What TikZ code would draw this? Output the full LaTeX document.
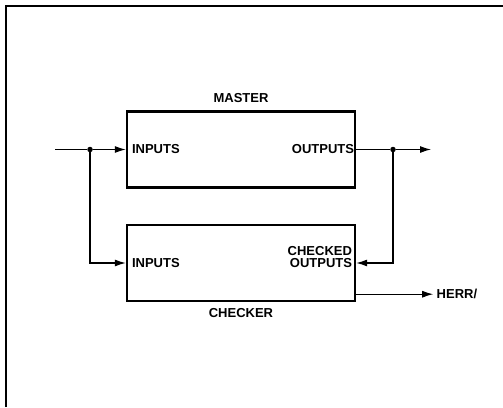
\documentclass[tikz,border=0pt]{standalone}
\usepackage{fontspec}
\setmainfont{Liberation Sans}
\usetikzlibrary{positioning, arrows.meta}

\begin{document}
\begin{tikzpicture}[
    x=1pt, y=-1pt,
    font=\fontsize{13}{13.5}\selectfont\bfseries,
    % Styles
    unitbox/.style={rectangle, draw=black, line width=2.4pt, minimum width=228pt, minimum height=76pt, inner sep=0pt},
    portlabel/.style={inner sep=0pt, align=right},
    junction/.style={circle, fill=black, inner sep=0pt, minimum size=5.5pt},
    wire/.style={line width=1.1pt},
    arrow/.style={wire, -{Latex[length=11pt, width=7pt]}},
    frameline/.style={line width=1.5pt}
]
\useasboundingbox (0,0) rectangle (503,407);

% ==================== FRAME ====================
\draw[frameline] (6,407) -- (6,6) -- (503,6);

% ==================== UNITS ====================
\node[unitbox] (master) at (241,149.5) {};
\node[unitbox] (checker) at (241,263) {};

\node[above=4pt of master] (mastername) {MASTER};
\node[below=3pt of checker] (checkername) {CHECKER};

\node[portlabel, anchor=west] (min) at ([xshift=6pt]master.west) {INPUTS};
\node[portlabel, anchor=east] (mout) at ([xshift=-2pt]master.east) {OUTPUTS};
\node[portlabel, anchor=west] (cin) at ([xshift=6pt]checker.west) {INPUTS};
\node[portlabel, anchor=east] (cout) at ([xshift=-4pt, yshift=6pt]checker.east) {CHECKED\\[-2pt]OUTPUTS};

% ==================== INPUT SIDE ====================
\coordinate (insrc) at (55,149.5);
\node[junction] (dotin) at (90,149.5) {};
\draw[wire] (insrc) -- (dotin);
\draw[arrow] (dotin) -- (master.west);
\draw[arrow] (dotin) |- (checker.west);

% ==================== OUTPUT SIDE ====================
\node[junction] (dotout) at (393,149.5) {};
\coordinate (outdst) at (431,149.5);
\draw[wire] (master.east) -- (dotout);
\draw[arrow] (dotout) -- (outdst);
\draw[arrow] (dotout) |- (checker.east);

% ==================== ERROR ====================
\coordinate (errsrc) at ([yshift=8pt]checker.south east);
\node[anchor=west] (herr) at ([xshift=77pt]errsrc) {HERR/};
\draw[arrow] (errsrc) -- (herr.west);

\end{tikzpicture}
\end{document}
